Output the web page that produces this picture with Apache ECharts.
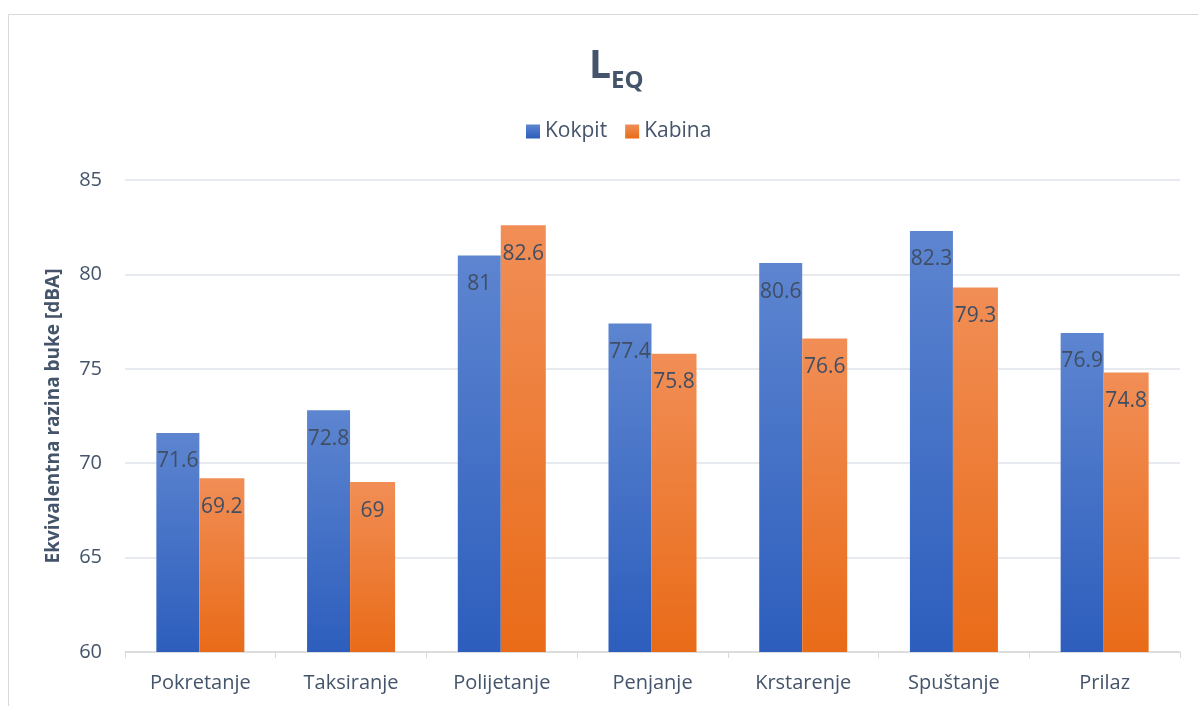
<!DOCTYPE html>
<html>
<head>
<meta charset="utf-8">
<script src="https://cdn.jsdelivr.net/npm/echarts@6/dist/echarts.min.js"></script>
<style>
  html, body { margin: 0; padding: 0; background: #fff; }
  #chart { width: 1198px; height: 706px; }
</style>
</head>
<body>
<div id="chart"></div>
<script>
var categories = ['Pokretanje', 'Taksiranje', 'Polijetanje', 'Penjanje', 'Krstarenje', 'Spuštanje', 'Prilaz'];
var kokpit = [71.6, 72.8, 81, 77.4, 80.6, 82.3, 76.9];
var kabina = [69.2, 69, 82.6, 75.8, 76.6, 79.3, 74.8];

var chart = echarts.init(document.getElementById('chart'));
var txt = '#44546a';
var font = '"Open Sans", "Noto Sans", sans-serif';

function grad(top, bottom) {
    return new echarts.graphic.LinearGradient(0, 0, 0, 1, [
        { offset: 0, color: top },
        { offset: 1, color: bottom }
    ]);
}

var labelOpt = {
    show: true,
    position: 'insideTop',
    distance: 18,
    color: '#404e64',
    fontSize: 21,
    fontFamily: font
};

chart.setOption({
    graphic: [{
        type: 'rect',
        shape: { x: 8.5, y: 14.5, width: 1300, height: 800 },
        style: { fill: 'none', stroke: '#d9d9d9', lineWidth: 1 }
    }],
    title: {
        text: '{l|L}{s|EQ}',
        left: 584,
        top: 42,
        textStyle: {
            rich: {
                l: { fontSize: 39, fontWeight: 'bold', color: txt, fontFamily: font, verticalAlign: 'top', lineHeight: 40 },
                s: { fontSize: 24, fontWeight: 'bold', color: txt, fontFamily: font, verticalAlign: 'top', padding: [22, 0, 0, 0] }
            }
        }
    },
    legend: {
        top: 116,
        left: 521,
        itemWidth: 14,
        itemHeight: 14,
        itemGap: 18,
        icon: 'rect',
        textStyle: { color: txt, fontSize: 21, fontFamily: font },
        data: ['Kokpit', 'Kabina']
    },
    grid: { left: 125, right: 18, top: 180, bottom: 54, containLabel: false },
    xAxis: {
        type: 'category',
        data: categories,
        axisLine: { lineStyle: { color: '#d9d9d9', width: 1.5 } },
        axisTick: { show: true, alignWithLabel: false, length: 6, lineStyle: { color: '#d9d9d9' } },
        axisLabel: { color: txt, fontSize: 20, fontFamily: font, margin: 21 }
    },
    yAxis: {
        type: 'value',
        min: 60,
        max: 85,
        interval: 5,
        name: 'Ekvivalentna razina buke [dBA]',
        nameLocation: 'middle',
        nameGap: 62,
        nameTextStyle: { color: txt, fontSize: 19, fontWeight: 'bold', fontFamily: font },
        axisLine: { show: false },
        axisTick: { show: false },
        axisLabel: { color: txt, fontSize: 20, fontFamily: font, margin: 23 },
        splitLine: { lineStyle: { color: '#dfe3e8', width: 1.5 } }
    },
    series: [{
        name: 'Kokpit',
        type: 'bar',
        data: kokpit,
        barWidth: 43,
        barGap: '0%',
        itemStyle: { color: grad('#5d85d0', '#2d5ebd') },
        label: labelOpt
    }, {
        name: 'Kabina',
        type: 'bar',
        data: kabina,
        barWidth: 45,
        barGap: '0%',
        itemStyle: { color: grad('#f18e56', '#e96b18') },
        label: labelOpt
    }]
});
</script>
</body>
</html>
